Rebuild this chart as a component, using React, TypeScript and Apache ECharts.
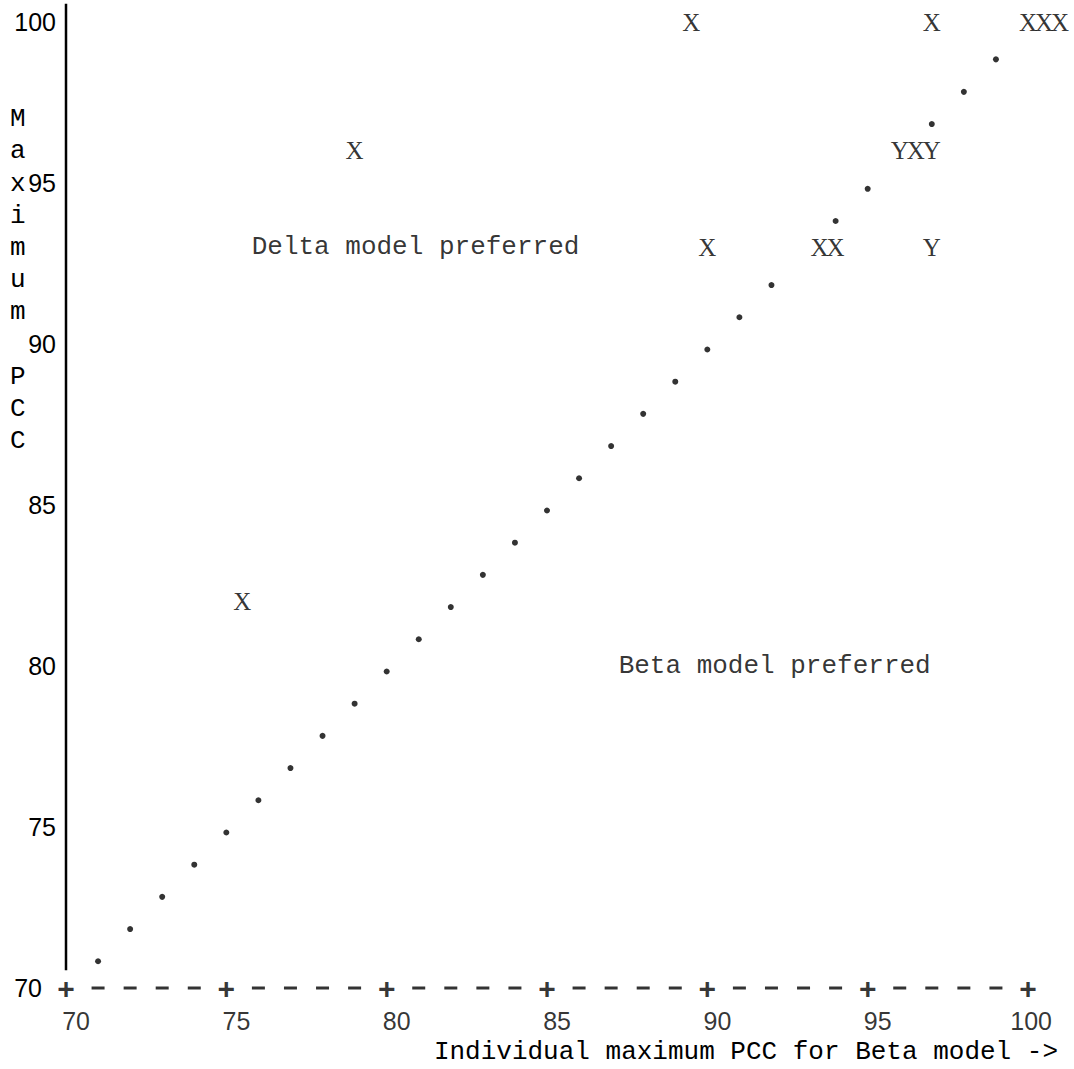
import React, { useEffect, useRef } from "react";
import * as echarts from "echarts";

// Diagonal of typed periods (x = y line)
const diagX = [71, 72, 73, 74, 75, 76, 77, 78, 79, 80, 81, 82, 83, 84, 85, 86, 87, 88, 89, 90, 91, 92, 94, 95, 97, 98, 99];
const diagY = [70.83, 71.83, 72.83, 73.83, 74.83, 75.83, 76.83, 77.83, 78.83, 79.83, 80.83, 81.83, 82.83, 83.83, 84.83, 85.83, 86.83, 87.83, 88.83, 89.83, 90.83, 91.83, 93.82, 94.82, 96.83, 97.83, 98.84];

// Plotted symbols (X / Y)
const markerX = [89.5, 97, 100, 100.5, 101, 79, 96, 96.5, 97, 90, 93.5, 94, 97, 75.5];
const markerY = [100, 100, 100, 100, 100, 96, 96, 96, 96, 93, 93, 93, 93, 82];
const markerChar = ["X", "X", "X", "X", "X", "X", "Y", "X", "Y", "X", "X", "X", "Y", "X"];

// Region annotations
const annotText = ["Delta model preferred", "Beta model preferred"];
const annotX = [80.9, 92.1];
const annotY = [93, 80];

// Axis
const xMajor = [70, 75, 80, 85, 90, 95, 100];
const xMinor = [71, 72, 73, 74, 76, 77, 78, 79, 81, 82, 83, 84, 86, 87, 88, 89, 91, 92, 93, 94, 96, 97, 98, 99];
const yTitleChars = ["M", "a", "x", "i", "m", "u", "m", "", "P", "C", "C"];
const xTitle = "Individual maximum PCC for Beta model ->";

const MONO = '"Liberation Mono", "Courier New", monospace';
const SERIF = '"Liberation Serif", "Times New Roman", serif';
const SANS = '"Liberation Sans", Arial, sans-serif';

export default function App() {
  const ref = useRef<HTMLDivElement>(null);
  useEffect(() => {
    if (!ref.current) return;
    const chart = echarts.init(ref.current, undefined, { renderer: "svg" });
    const hidden = { itemStyle: { color: "rgba(0,0,0,0)" }, symbolSize: 1 };
    chart.setOption({
      animation: false,
      backgroundColor: "#ffffff",
      grid: { left: 66, right: 46, top: 22, bottom: 81 },
      xAxis: {
        type: "value",
        min: 70,
        max: 100,
        interval: 5,
        axisLine: { show: false },
        axisTick: { show: false },
        axisLabel: { show: false },
        splitLine: { show: false },
      },
      yAxis: {
        type: "value",
        min: 70,
        max: 100,
        interval: 5,
        axisLine: { show: false },
        axisTick: { show: false },
        splitLine: { show: false },
        axisLabel: {
          margin: 10,
          color: "#000",
          fontFamily: SANS,
          fontSize: 25,
          formatter: (v: number) => (v === 70 ? "{a|70}" : String(v)),
          rich: { a: { padding: [0, 14, 0, 0], color: "#000", fontFamily: SANS, fontSize: 25 } },
        },
      },
      graphic: [
        {
          type: "text",
          left: 10,
          top: 103,
          style: { text: yTitleChars.join("\n"), font: `26px ${MONO}`, lineHeight: 32.2, fill: "#000" },
        },
        {
          type: "text",
          right: 16,
          top: 1036,
          style: { text: xTitle, font: `26px ${MONO}`, lineHeight: 32, fill: "#000" },
        },
      ],
      series: [
        {
          type: "line",
          data: [[70, 70.55], [70, 100.57]],
          symbol: "none",
          clip: false,
          lineStyle: { color: "#000", width: 2.5 },
          silent: true,
        },
        {
          type: "scatter",
          clip: false,
          data: diagX.map((x, i) => [x, diagY[i]]),
          symbol: "circle",
          symbolSize: 6,
          itemStyle: { color: "#000" },
        },
        {
          type: "scatter",
          clip: false,
          ...hidden,
          data: markerX.map((x, i) => ({ value: [x, markerY[i]], name: markerChar[i] })),
          label: {
            show: true,
            position: "inside",
            formatter: (p: any) => p.name,
            color: "#000",
            fontFamily: SERIF,
            fontSize: 25,
            align: "center",
            verticalAlign: "middle",
          },
        },
        {
          type: "scatter",
          clip: false,
          ...hidden,
          data: annotX.map((x, i) => ({ value: [x, annotY[i]], name: annotText[i] })),
          label: {
            show: true,
            position: "inside",
            formatter: (p: any) => p.name,
            color: "#000",
            fontFamily: MONO,
            fontSize: 26,
            align: "center",
            verticalAlign: "middle",
          },
        },
        {
          type: "scatter",
          clip: false,
          ...hidden,
          data: xMajor.map((x) => [x, 70]),
          label: {
            show: true,
            position: "inside",
            formatter: "+",
            color: "#000",
            fontFamily: SANS,
            fontWeight: "bold",
            fontSize: 30,
            align: "center",
            verticalAlign: "middle",
          },
        },
        {
          type: "scatter",
          clip: false,
          ...hidden,
          data: xMajor.map((x) => [x, 70]),
          label: {
            show: true,
            position: "inside",
            offset: [24, 33],
            formatter: (p: any) => String(p.value[0]),
            color: "#000",
            fontFamily: SANS,
            fontSize: 25,
            align: "right",
            verticalAlign: "middle",
          },
        },
        {
          type: "scatter",
          clip: false,
          data: xMinor.map((x) => [x, 70]),
          symbol: "rect",
          symbolSize: [13, 3],
          itemStyle: { color: "#000" },
        },
      ],
    });
    return () => chart.dispose();
  }, []);
  return <div ref={ref} style={{ position: "absolute", left: 0, top: 0, width: 1074, height: 1069 }} />;
}
